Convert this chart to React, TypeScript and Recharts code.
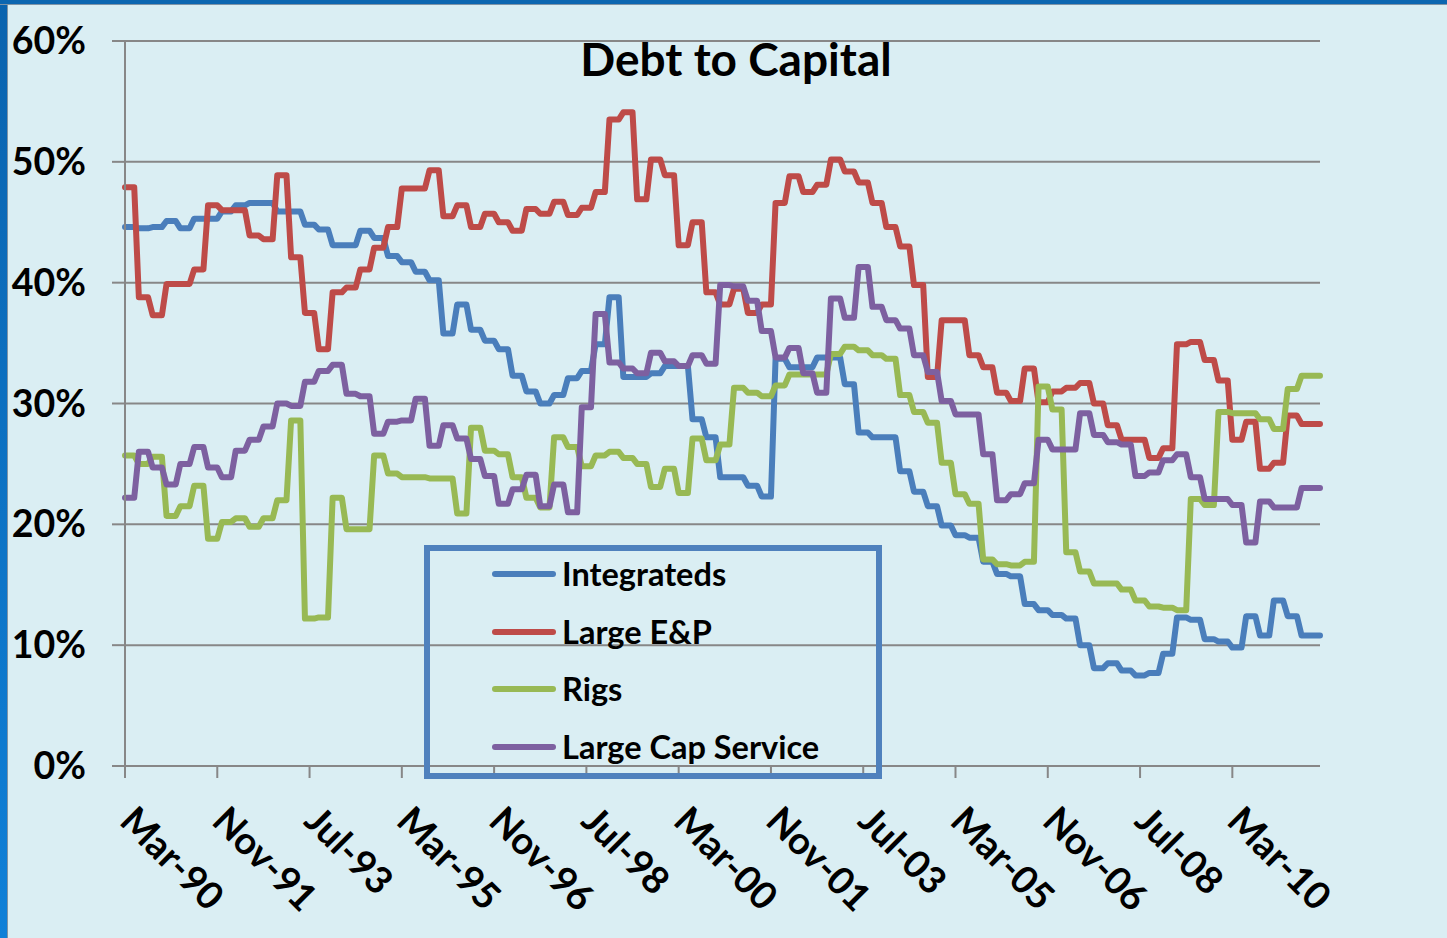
import React from 'react';
import { LineChart, Line, XAxis, YAxis, CartesianGrid, Legend } from 'recharts';

const MONTH_NAMES = ['Jan', 'Feb', 'Mar', 'Apr', 'May', 'Jun', 'Jul', 'Aug', 'Sep', 'Oct', 'Nov', 'Dec'];
const START_YEAR = 1990;
const START_MONTH = 2; // Mar-90
const MONTH_COUNT = 260;

// quarterly readings (%), starting Mar-90, each held for three months
const INTEGRATEDS = [
  44.6, 44.5, 44.6, 45.1, 44.5, 45.3, 45.3, 45.9, 46.4, 46.6,
  46.6, 45.9, 45.9, 44.8, 44.4, 43.1, 43.1, 44.3, 43.7, 42.2,
  41.7, 40.9, 40.2, 35.8, 38.2, 36.1, 35.2, 34.5, 32.3, 31.0,
  30.0, 30.7, 32.1, 32.7, 34.9, 38.8, 32.2, 32.2, 32.5, 33.1,
  33.1, 28.7, 27.2, 23.9, 23.9, 23.2, 22.3, 33.7, 33.0, 33.0,
  33.8, 33.8, 31.6, 27.6, 27.2, 27.2, 24.4, 22.7, 21.5, 19.9,
  19.1, 18.9, 16.9, 15.9, 15.7, 13.4, 12.9, 12.5, 12.2, 10.0,
  8.1, 8.5, 7.9, 7.5, 7.7, 9.3, 12.3, 12.1, 10.5, 10.3,
  9.8, 12.4, 10.8, 13.7, 12.4, 10.8, 10.8,
];

const LARGE_EP = [
  47.9, 38.8, 37.3, 39.9, 39.9, 41.1, 46.4, 46.0, 46.0, 43.9,
  43.6, 48.9, 42.1, 37.5, 34.5, 39.2, 39.6, 41.1, 42.9, 44.6,
  47.8, 47.8, 49.3, 45.5, 46.4, 44.6, 45.7, 45.0, 44.3, 46.1,
  45.7, 46.7, 45.6, 46.2, 47.5, 53.5, 54.1, 46.9, 50.2, 48.9,
  43.1, 45.0, 39.2, 38.2, 39.5, 37.5, 38.2, 46.6, 48.8, 47.5,
  48.1, 50.2, 49.2, 48.3, 46.6, 44.6, 43.0, 39.8, 32.2, 36.9,
  36.9, 34.0, 33.0, 30.9, 30.2, 32.9, 30.1, 31.0, 31.3, 31.7,
  30.0, 28.2, 27.0, 27.0, 25.5, 26.3, 34.9, 35.1, 33.6, 31.9,
  27.0, 28.5, 24.6, 25.1, 29.0, 28.3, 28.3,
];

const RIGS = [
  25.7, 25.0, 25.6, 20.7, 21.5, 23.2, 18.8, 20.2, 20.5, 19.8,
  20.5, 22.0, 28.6, 12.2, 12.3, 22.2, 19.6, 19.6, 25.7, 24.2,
  23.9, 23.9, 23.8, 23.8, 20.9, 28.0, 26.1, 25.8, 23.9, 22.2,
  21.4, 27.2, 26.4, 24.8, 25.7, 26.0, 25.5, 25.0, 23.1, 24.6,
  22.6, 27.1, 25.3, 26.6, 31.3, 30.9, 30.6, 31.5, 32.4, 32.4,
  32.4, 34.1, 34.7, 34.4, 34.0, 33.7, 30.7, 29.3, 28.4, 25.1,
  22.5, 21.7, 17.1, 16.7, 16.6, 16.9, 31.4, 29.5, 17.7, 16.1,
  15.1, 15.1, 14.6, 13.7, 13.2, 13.1, 12.9, 22.1, 21.6, 29.3,
  29.2, 29.2, 28.7, 27.9, 31.2, 32.3, 32.3,
];

const LARGE_CAP_SERVICE = [
  22.2, 26.0, 24.7, 23.3, 25.0, 26.4, 24.7, 23.9, 26.1, 27.0,
  28.1, 30.0, 29.8, 31.8, 32.7, 33.2, 30.8, 30.6, 27.5, 28.5,
  28.6, 30.4, 26.5, 28.2, 27.1, 25.4, 24.0, 21.7, 22.9, 24.1,
  21.5, 23.3, 21.0, 29.7, 37.4, 33.4, 32.9, 32.5, 34.2, 33.5,
  33.1, 34.0, 33.3, 39.8, 39.7, 38.5, 36.0, 33.8, 34.6, 32.5,
  30.9, 38.7, 37.1, 41.3, 38.0, 36.9, 36.2, 34.0, 32.6, 30.2,
  29.1, 29.1, 25.8, 22.0, 22.5, 23.4, 27.0, 26.2, 26.2, 29.2,
  27.4, 26.8, 26.6, 24.0, 24.3, 25.3, 25.8, 23.9, 22.1, 22.1,
  21.6, 18.5, 21.9, 21.4, 21.4, 23.0, 23.0,
];

const Y_TICKS = [0, 10, 20, 30, 40, 50, 60];

const SERIES = [
  { key: 'integrateds', name: 'Integrateds', color: '#4A7EBB', values: INTEGRATEDS },
  { key: 'largeEP', name: 'Large E&P', color: '#BE4B48', values: LARGE_EP },
  { key: 'rigs', name: 'Rigs', color: '#98B954', values: RIGS },
  { key: 'largeCap', name: 'Large Cap Service', color: '#7D60A0', values: LARGE_CAP_SERVICE },
];

const data = Array.from({ length: MONTH_COUNT }, (_, m) => {
  const mi = START_MONTH + m;
  const yy = String((START_YEAR + Math.floor(mi / 12)) % 100).padStart(2, '0');
  const row: Record<string, string | number> = { month: `${MONTH_NAMES[mi % 12]}-${yy}` };
  const q = Math.floor(m / 3);
  SERIES.forEach((s) => {
    row[s.key] = s.values[q];
  });
  return row;
});

const FONT = 'Lato, "Open Sans", sans-serif';
const GRID = '#878787';
const LINE_W = 6;

const renderXTick = (props: any) => {
  const { x, y, payload } = props;
  const ax = x - 7;
  const ay = y + 43;
  return (
    <text x={ax} y={ay} transform={`rotate(45, ${ax}, ${ay})`} textAnchor="start"
      fontFamily={FONT} fontWeight={700} fontSize={38} fill="#000">
      {payload.value}
    </text>
  );
};

const renderYTick = (props: any) => {
  const { x, y, payload } = props;
  return (
    <text x={x} y={y} dy={13} textAnchor="end" fontFamily={FONT} fontWeight={700} fontSize={37.5} fill="#000">
      {`${payload.value}%`}
    </text>
  );
};

const renderLegend = (props: any) => {
  const order = SERIES.map((s) => s.name);
  const items = [...(props.payload || [])].sort((a: any, b: any) => order.indexOf(a.value) - order.indexOf(b.value));
  return (
    <div style={{ boxSizing: 'border-box', width: 458, height: 234, border: '6px solid #4F81BD', position: 'relative' }}>
      {items.map((it: any, i: number) => (
        <div key={it.value} style={{ position: 'absolute', left: 62, top: 3 + i * 57.7, height: 40, display: 'flex', alignItems: 'center' }}>
          <svg width={64} height={10}>
            <line x1={3} y1={5} x2={61} y2={5} stroke={it.color} strokeWidth={LINE_W} strokeLinecap="round" />
          </svg>
          <span style={{ marginLeft: 6, fontFamily: FONT, fontWeight: 700, fontSize: 32.5, lineHeight: '40px', color: '#000', whiteSpace: 'nowrap' }}>
            {it.value}
          </span>
        </div>
      ))}
    </div>
  );
};

export default function App() {
  return (
    <div style={{ position: 'absolute', left: 0, top: 0, width: 1447, height: 938, background: '#DAEEF3', overflow: 'hidden' }}>
      <div style={{ position: 'absolute', left: 0, top: 0, width: 7, height: 938, background: 'linear-gradient(#0A63AE, #0F80D8)', borderRight: '1px solid #7F94A6' }} />
      <div style={{ position: 'absolute', left: 0, top: 0, width: 1447, height: 4, background: '#0C66B0', borderBottom: '1px solid #7F94A6' }} />
      <div style={{ position: 'absolute', left: 0, top: 0 }}>
        <LineChart width={1447} height={938} data={data} margin={{ top: 41, right: 127, bottom: 12, left: 0 }}>
          <CartesianGrid vertical={false} stroke={GRID} strokeWidth={2} />
          <XAxis dataKey="month" interval={19} height={160} tickSize={12}
            axisLine={{ stroke: GRID, strokeWidth: 2 }} tickLine={{ stroke: GRID, strokeWidth: 2 }} tick={renderXTick} />
          <YAxis domain={[0, 60]} ticks={Y_TICKS} width={125} tickSize={13} tickMargin={26}
            axisLine={{ stroke: GRID, strokeWidth: 2 }} tickLine={{ stroke: GRID, strokeWidth: 2 }} tick={renderYTick} />
          {SERIES.map((s) => (
            <Line key={s.key} type="linear" dataKey={s.key} name={s.name} stroke={s.color} strokeWidth={LINE_W}
              strokeLinejoin="round" strokeLinecap="round" dot={false} activeDot={false} isAnimationActive={false} />
          ))}
          <Legend layout="vertical" align="center" verticalAlign="middle" content={renderLegend}
            wrapperStyle={{ left: 424, top: 545, width: 458, height: 234 }} />
        </LineChart>
      </div>
      <div style={{ position: 'absolute', left: 0, top: 31, width: 1472, textAlign: 'center', fontFamily: FONT, fontWeight: 700, fontSize: 46, lineHeight: 1.2, color: '#000' }}>
        Debt to Capital
      </div>
    </div>
  );
}
